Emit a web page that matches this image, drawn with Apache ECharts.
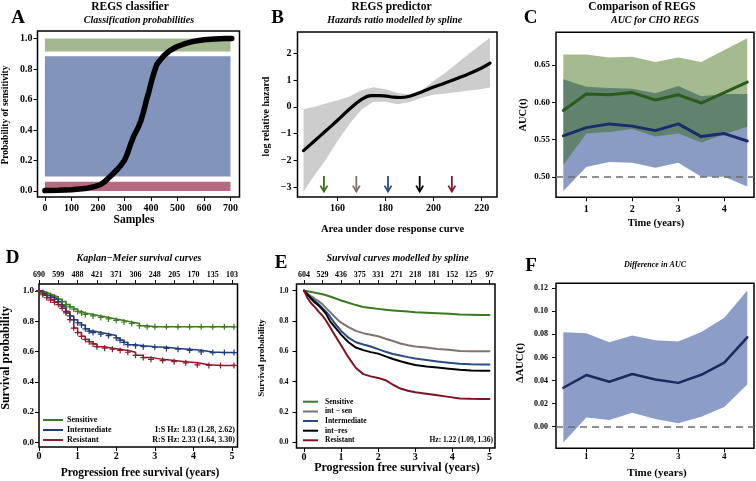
<!DOCTYPE html>
<html><head><meta charset="utf-8">
<script src="https://cdn.jsdelivr.net/npm/echarts@6/dist/echarts.min.js"></script>
<style>html,body{margin:0;padding:0;background:#fff}#c{width:756px;height:481px}</style>
</head><body><div id="c"></div>
<script>
// ---------------- Panel A: REGS classifier ----------------
const aSamples = [0,50,100,130,160,190,210,225,240,255,270,285,300,312,322,335,350,362,372,382,392,402,412,422,435,450,470,495,525,560,600,640,680,705];
const aProbSensitivity = [0.002,0.004,0.008,0.012,0.018,0.03,0.042,0.06,0.085,0.11,0.135,0.165,0.2,0.25,0.3,0.36,0.41,0.46,0.52,0.59,0.65,0.72,0.78,0.83,0.86,0.89,0.92,0.945,0.965,0.982,0.993,0.998,1.0,1.0];
const aRegionX = [0, 700];
const aRegionLow = [0.915, 0.095, 0.0];
const aRegionHigh = [1.0, 0.885, 0.06];
const aXTicks = [0,100,200,300,400,500,600,700];
const aYTicks = [0,0.2,0.4,0.6,0.8,1.0];

// ---------------- Panel B: REGS predictor ----------------
const bAuc = [145.8,150,155,160,165,170,174,178,182,186,190,195,200,205,210,215,220,223.5];
const bLogHazard = [-1.63,-1.3,-0.9,-0.5,-0.08,0.28,0.42,0.42,0.38,0.35,0.4,0.56,0.74,0.9,1.07,1.25,1.45,1.63];
const bBandAuc = [145.8,150,155,160,165,170,175,180,185,190,195,200,205,210,215,220,223.5];
const bBandLow = [-3.17,-2.6,-1.98,-1.27,-0.63,-0.1,0.19,0.19,0.1,0.18,0.34,0.45,0.5,0.56,0.61,0.67,0.72];
const bBandHigh = [-0.09,0.0,0.13,0.25,0.39,0.62,0.73,0.66,0.52,0.46,0.62,0.97,1.28,1.65,2.0,2.35,2.58];
const bArrowAuc = [154.3,167.8,181,194.2,207.6];
const bArrowTop = -2.58, bArrowTip = -3.16;
const bXTicks = [160,180,200,220];
const bYTicks = [-3,-2,-1,0,1,2];

// ---------------- Panel C: Comparison of REGS ----------------
const cTime = [0.5,1,1.5,2,2.5,3,3.5,4,4.5];
const cGreenMean = [0.589,0.611,0.610,0.613,0.603,0.610,0.599,0.613,0.627];
const cGreenHigh = [0.664,0.664,0.660,0.661,0.654,0.660,0.654,0.670,0.686];
const cGreenLow  = [0.516,0.558,0.560,0.564,0.554,0.558,0.546,0.557,0.567];
const cBlueMean  = [0.555,0.566,0.571,0.568,0.562,0.571,0.554,0.558,0.548];
const cBlueHigh  = [0.631,0.621,0.619,0.618,0.612,0.622,0.608,0.611,0.611];
const cBlueLow   = [0.481,0.513,0.520,0.519,0.512,0.519,0.500,0.500,0.487];
const cXTicks = [1,2,3,4];
const cYTicks = [0.50,0.55,0.60,0.65];

// ---------------- Panel D: Kaplan-Meier ----------------
const dTimeS = [0,0.1,0.2,0.3,0.4,0.5,0.6,0.7,0.8,0.9,1.0,1.1,1.2,1.4,1.6,1.8,2.0,2.2,2.4,2.6,2.8,3.0,3.3,3.6,3.9,4.2,4.5,4.8,5.05];
const dSurvS = [1.0,0.99,0.98,0.97,0.96,0.945,0.93,0.91,0.895,0.88,0.865,0.855,0.845,0.835,0.825,0.815,0.805,0.795,0.785,0.77,0.763,0.763,0.763,0.763,0.763,0.763,0.763,0.763,0.763];
const dTimeI = [0,0.1,0.2,0.3,0.4,0.5,0.6,0.7,0.8,0.9,1.0,1.1,1.2,1.3,1.4,1.6,1.8,2.0,2.1,2.2,2.3,2.5,2.7,3.0,3.3,3.6,3.9,4.2,4.5,4.8,5.05];
const dSurvI = [1.0,0.985,0.97,0.958,0.945,0.93,0.9,0.865,0.835,0.81,0.79,0.775,0.75,0.735,0.725,0.715,0.705,0.69,0.675,0.66,0.645,0.638,0.632,0.628,0.62,0.615,0.608,0.597,0.593,0.593,0.593];
const dTimeR = [0,0.1,0.2,0.3,0.4,0.5,0.6,0.7,0.8,0.9,1.0,1.1,1.2,1.3,1.4,1.5,1.7,1.9,2.1,2.3,2.5,2.7,2.9,3.2,3.5,3.8,4.1,4.4,4.7,5.05];
const dSurvR = [1.0,0.975,0.955,0.94,0.925,0.91,0.885,0.855,0.81,0.755,0.725,0.7,0.68,0.665,0.65,0.632,0.622,0.615,0.607,0.595,0.575,0.56,0.548,0.54,0.533,0.525,0.512,0.508,0.508,0.508];
const dAtRisk = ['690','599','488','421','371','306','248','205','170','135','103'];
const dXTicks = [0,1,2,3,4,5];
const dTopTicks = [0,0.5,1,1.5,2,2.5,3,3.5,4,4.5,5];
const dYTicks = [0,0.2,0.4,0.6,0.8,1.0];

// ---------------- Panel E: spline survival ----------------
const eTime = [0,0.1,0.2,0.3,0.4,0.5,0.6,0.7,0.8,0.9,1.0,1.2,1.4,1.6,1.8,2.0,2.2,2.4,2.6,2.8,3.0,3.3,3.6,3.9,4.2,4.5,4.8,5.0];
const eSensitive = [1.0,0.996,0.992,0.987,0.982,0.976,0.97,0.962,0.953,0.944,0.935,0.92,0.905,0.893,0.886,0.88,0.875,0.87,0.866,0.862,0.858,0.855,0.852,0.848,0.843,0.841,0.84,0.839];
const eIntSen = [1.0,0.98,0.962,0.945,0.93,0.91,0.885,0.86,0.835,0.81,0.79,0.76,0.735,0.72,0.71,0.7,0.683,0.668,0.652,0.64,0.632,0.625,0.615,0.61,0.603,0.601,0.6,0.6];
const eIntermediate = [1.0,0.975,0.952,0.93,0.91,0.885,0.86,0.83,0.795,0.765,0.735,0.69,0.66,0.645,0.632,0.615,0.597,0.583,0.573,0.562,0.553,0.543,0.533,0.525,0.518,0.515,0.514,0.514];
const eIntRes = [1.0,0.972,0.945,0.92,0.9,0.875,0.845,0.8,0.77,0.74,0.71,0.66,0.625,0.608,0.595,0.585,0.567,0.55,0.535,0.522,0.51,0.5,0.493,0.485,0.478,0.474,0.473,0.473];
const eResistant = [1.0,0.95,0.915,0.89,0.86,0.835,0.8,0.76,0.72,0.68,0.64,0.56,0.49,0.45,0.435,0.425,0.41,0.38,0.355,0.34,0.33,0.32,0.31,0.3,0.29,0.287,0.286,0.286];
const eAtRisk = ['604','529','436','375','331','271','218','181','152','125','97'];

// ---------------- Panel F: Difference in AUC ----------------
const fTime = [0.5,1,1.5,2,2.5,3,3.5,4,4.5];
const fDiff = [0.0338,0.0448,0.039,0.0457,0.041,0.038,0.045,0.0555,0.0775];
const fHigh = [0.0819,0.081,0.0732,0.079,0.075,0.0738,0.082,0.0945,0.118];
const fLow  = [-0.0136,0.0081,0.0058,0.0122,0.0068,0.003,0.0087,0.017,0.0367];
const fYTicks = [0,0.02,0.04,0.06,0.08,0.10,0.12];

// ================= build =================
const FF = '"Liberation Serif","DejaVu Serif",serif';
const zip = (xs, ys) => xs.map((x, i) => [x, ys[i]]);

function ax(grid, pos, min, max, ticks, fmt, size, margin) {
  return {
    type: 'value', gridIndex: grid, position: pos, min: min, max: max,
    splitLine: {show: false},
    axisLine: {show: false, onZero: false},
    axisTick: {show: true, inside: false, length: 4, customValues: ticks, lineStyle: {color: '#000', width: 1}},
    axisLabel: {customValues: ticks, formatter: fmt, fontFamily: FF, fontWeight: 'bold', fontSize: size, color: '#000', margin: margin}
  };
}
const f0 = v => String(Math.round(v));
const f1 = v => v.toFixed(1);
const f2 = v => v.toFixed(2);
const fMinus = v => (v < 0 ? '\u2212' + Math.abs(v) : String(v));

const gridStyle = {show: true, borderColor: '#000', borderWidth: 1.5, backgroundColor: 'rgba(0,0,0,0)'};
const grids = [
  Object.assign({left: 37.5, top: 31, width: 202, height: 166}, gridStyle),
  Object.assign({left: 297.5, top: 32, width: 199.5, height: 165}, gridStyle),
  Object.assign({left: 556, top: 32.3, width: 198, height: 165}, gridStyle),
  Object.assign({left: 39, top: 284, width: 198.5, height: 163}, gridStyle),
  Object.assign({left: 296.5, top: 284, width: 198.5, height: 164}, gridStyle),
  Object.assign({left: 556, top: 283.3, width: 198, height: 165}, gridStyle)
];

const xAxes = [
  ax(0, 'bottom', -28, 734, aXTicks, f0, 10, 6),
  ax(1, 'bottom', 143.3, 226.4, bXTicks, f0, 10, 6),
  ax(2, 'bottom', 0.341, 4.646, cXTicks, f0, 10, 7),
  ax(3, 'bottom', 0, 5.14, dXTicks, f0, 10, 4),
  ax(4, 'bottom', -0.202, 5.15, dXTicks, f0, 10, 4),
  ax(5, 'bottom', 0.341, 4.646, cXTicks, f0, 9, 4),
  ax(3, 'top', 0, 5.14, dTopTicks, v => dAtRisk[Math.round(v * 2)], 8, 5),
  ax(4, 'top', -0.202, 5.15, dTopTicks, v => eAtRisk[Math.round(v * 2)], 8, 5)
];
const yAxes = [
  ax(0, 'left', -0.04, 1.05, aYTicks, f1, 10, 5),
  ax(1, 'left', -3.362, 2.795, bYTicks, fMinus, 10, 6),
  ax(2, 'left', 0.4725, 0.6939, cYTicks, f2, 9, 6),
  ax(3, 'left', -0.031, 1.046, dYTicks, f1, 9, 5),
  ax(4, 'left', -0.037, 1.044, dYTicks, f1, 7.5, 8),
  ax(5, 'left', -0.0187, 0.1243, fYTicks, f2, 8, 8)
];

function band(ai, xs, lo, hi, color) {
  return {
    type: 'custom', xAxisIndex: ai, yAxisIndex: ai, silent: true, animation: false,
    data: xs.map((x, i) => [x, lo[i], hi[i]]),
    encode: {x: 0, y: [1, 2]},
    renderItem: function (params, api) {
      if (params.dataIndex !== 0) return null;
      const pts = [];
      for (let i = 0; i < xs.length; i++) pts.push(api.coord([xs[i], hi[i]]));
      for (let i = xs.length - 1; i >= 0; i--) pts.push(api.coord([xs[i], lo[i]]));
      return {type: 'polygon', shape: {points: pts}, style: {fill: color}};
    }
  };
}
function line(ai, data, color, width, extra) {
  return Object.assign({
    type: 'line', xAxisIndex: ai, yAxisIndex: ai, data: data, symbol: 'none',
    lineStyle: {color: color, width: width, cap: 'round', join: 'round'}, itemStyle: {color: color},
    silent: true, animation: false
  }, extra || {});
}
const PLUS = 'path://M4,0L6,0L6,4L10,4L10,6L6,6L6,10L4,10L4,6L0,6L0,4L4,4Z';
function km(data, color) {
  return line(3, data, color, 1.5, {step: 'end', symbol: PLUS, symbolSize: 6, showAllSymbol: true});
}
const dash = v => ({silent: true, symbol: 'none', label: {show: false},
  lineStyle: {type: [7, 5], color: '#6e6e6e', width: 1.6}, data: [{yAxis: v}]});

const regionColors = ['#a2b890', '#8294bc', '#b56a80'];
const arrowColors = ['#3b6d1f', '#7a706b', '#2a4a88', '#000000', '#7b1a2a'];

const series = [
  // A
  {
    type: 'custom', xAxisIndex: 0, yAxisIndex: 0, silent: true,
    data: aRegionLow.map((lo, i) => [aRegionX[0], aRegionX[1], lo, aRegionHigh[i], i]),
    encode: {x: [0, 1], y: [2, 3]},
    renderItem: function (params, api) {
      const p1 = api.coord([api.value(0), api.value(3)]);
      const p2 = api.coord([api.value(1), api.value(2)]);
      return {type: 'rect', shape: {x: p1[0], y: p1[1], width: p2[0] - p1[0], height: p2[1] - p1[1]},
        style: {fill: regionColors[api.value(4)]}};
    }
  },
  line(0, zip(aSamples, aProbSensitivity), '#000', 5.5),
  // B
  band(1, bBandAuc, bBandLow, bBandHigh, '#cdcdcd'),
  line(1, zip(bAuc, bLogHazard), '#000', 3.2, {smooth: 0.4}),
  {
    type: 'custom', xAxisIndex: 1, yAxisIndex: 1, silent: true,
    data: bArrowAuc.map((x, i) => [x, bArrowTop, bArrowTip, i]),
    encode: {x: 0, y: [1, 2]},
    renderItem: function (params, api) {
      const a = api.coord([api.value(0), api.value(1)]);
      const b = api.coord([api.value(0), api.value(2)]);
      const c = arrowColors[api.value(3)];
      return {type: 'group', children: [
        {type: 'line', shape: {x1: a[0], y1: a[1], x2: b[0], y2: b[1]}, style: {stroke: c, lineWidth: 1.8}},
        {type: 'polyline', shape: {points: [[b[0] - 3.5, b[1] - 6], [b[0], b[1]], [b[0] + 3.5, b[1] - 6]]},
          style: {stroke: c, lineWidth: 1.8, fill: null}}
      ]};
    }
  },
  // C
  band(2, cTime, cBlueLow, cBlueHigh, 'rgba(60,90,157,0.6)'),
  band(2, cTime, cGreenLow, cGreenHigh, 'rgba(46,100,0,0.44)'),
  line(2, zip(cTime, cGreenMean), '#2c5a1c', 3, {markLine: dash(0.5)}),
  line(2, zip(cTime, cBlueMean), '#1a2c6c', 3),
  // D
  km(zip(dTimeS, dSurvS), '#3d7a22'),
  km(zip(dTimeI, dSurvI), '#1e3c78'),
  km(zip(dTimeR, dSurvR), '#8c1c2c'),
  // E
  line(4, zip(eTime, eSensitive), '#3a7a20', 2),
  line(4, zip(eTime, eIntSen), '#7d7471', 2),
  line(4, zip(eTime, eIntermediate), '#294a85', 2),
  line(4, zip(eTime, eIntRes), '#000', 2),
  line(4, zip(eTime, eResistant), '#7c1424', 2),
  // F
  band(5, fTime, fLow, fHigh, '#8c9ec8'),
  line(5, zip(fTime, fDiff), '#1b2a5c', 2.5, {markLine: dash(0)})
];

// ---------- texts ----------
function txt(x, y, text, font, align, rot) {
  const el = {type: 'text', x: x, y: y, silent: true,
    style: {text: text, font: font, fill: '#000', align: align || 'center', verticalAlign: 'middle',
      textAlign: align || 'center', textVerticalAlign: 'middle'}};
  if (rot) el.rotation = Math.PI / 2;
  return el;
}
function seg(x1, y, x2, color, w) {
  return {type: 'line', silent: true, shape: {x1: x1, y1: y, x2: x2, y2: y}, style: {stroke: color, lineWidth: w}};
}
const T = 'bold 11.5px ' + FF, S = 'italic bold 10px ' + FF, L = 'bold 19px ' + FF;
const graphics = [
  txt(130, 7, 'REGS classifier', T), txt(139, 20, 'Classification probabilities', S), txt(18, 18, 'A', L),
  txt(391.5, 7, 'REGS predictor', T), txt(394.7, 20, 'Hazards ratio modelled by spline', S), txt(277.5, 18, 'B', L),
  txt(642, 7, 'Comparison of REGS', T), txt(655, 20, 'AUC for CHO REGS', S), txt(530.5, 18, 'C', L),
  txt(139, 258, 'Kaplan\u2212Meier survival curves', S), txt(12.5, 258, 'D', L),
  txt(397.5, 258, 'Survival curves modelled by spline', S), txt(281, 263, 'E', L),
  txt(655, 265, 'Difference in AUC', 'italic bold 8px ' + FF), txt(531, 266, 'F', L),
  // axis titles
  txt(134, 220, 'Samples', 'bold 11.5px ' + FF),
  txt(6, 115, 'Probability of sensitivity', 'bold 9.5px ' + FF, 'center', true),
  txt(392.5, 229, 'Area under dose response curve', 'bold 10.5px ' + FF),
  txt(266.5, 116.5, 'log relative hazard', 'bold 10px ' + FF, 'center', true),
  txt(656, 223, 'Time (years)', 'bold 10.5px ' + FF),
  txt(523, 115, 'AUC(t)', 'bold 10.5px ' + FF, 'center', true),
  txt(140, 473, 'Progression free survival (years)', 'bold 11.5px ' + FF),
  txt(6, 358, 'Survival probability', 'bold 12px ' + FF, 'center', true),
  txt(397, 468, 'Progression free survival (years)', 'bold 12px ' + FF),
  txt(262, 358, 'Survival probability', 'bold 9px ' + FF, 'center', true),
  txt(657, 473, 'Time (years)', 'bold 11px ' + FF),
  txt(520, 363, '\u0394AUC(t)', 'bold 10.5px ' + FF, 'center', true),
  // legend D
  seg(43, 420, 63, '#3d7a22', 2), txt(67, 420, 'Sensitive', 'bold 8px ' + FF, 'left'),
  seg(43, 430, 63, '#1e3c78', 2), txt(67, 430, 'Intermediate', 'bold 8px ' + FF, 'left'),
  seg(43, 440, 63, '#8c1c2c', 2), txt(67, 440, 'Resistant', 'bold 8px ' + FF, 'left'),
  txt(235, 430, 'I:S Hz: 1.83 (1.28, 2.62)', 'bold 8px ' + FF, 'right'),
  txt(235, 440, 'R:S Hz: 2.33 (1.64, 3.30)', 'bold 8px ' + FF, 'right'),
  // legend E
  seg(303, 401.7, 318, '#3a7a20', 2), txt(325, 401.7, 'Sensitive', 'bold 7.5px ' + FF, 'left'),
  seg(303, 411.5, 318, '#7d7471', 2), txt(325, 411.5, 'int \u2212 sen', 'bold 7.5px ' + FF, 'left'),
  seg(303, 421, 318, '#294a85', 2), txt(325, 421, 'Intermediate', 'bold 7.5px ' + FF, 'left'),
  seg(303, 430.7, 318, '#000', 2), txt(325, 430.7, 'int\u2212res', 'bold 7.5px ' + FF, 'left'),
  seg(303, 440.3, 318, '#7c1424', 2), txt(325, 440.3, 'Resistant', 'bold 7.5px ' + FF, 'left'),
  txt(493, 440.3, 'Hz: 1.22 (1.09, 1.36)', 'bold 7.5px ' + FF, 'right')
];

const chart = echarts.init(document.getElementById('c'), null, {renderer: 'canvas'});
chart.setOption({
  animation: false,
  backgroundColor: '#fff',
  grid: grids, xAxis: xAxes, yAxis: yAxes, series: series,
  graphic: {elements: graphics}
});
</script></body></html>
